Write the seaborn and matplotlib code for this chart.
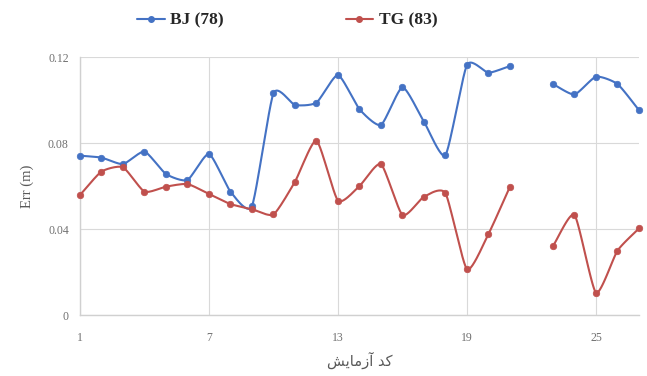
import numpy as np
import pandas as pd
import matplotlib
matplotlib.use("Agg")
import matplotlib.pyplot as plt
from matplotlib.lines import Line2D
import seaborn as sns

# Test codes (no measurement for code 22)
codes = list(range(1, 28))
bj_err = [0.0741, 0.0732, 0.0702, 0.0760, 0.0656, 0.0628, 0.0749, 0.0574, 0.0507,
          0.1031, 0.0977, 0.0988, 0.1116, 0.0957, 0.0884, 0.1059, 0.0899, 0.0744,
          0.1163, 0.1127, 0.1158, None, 0.1074, 0.1026, 0.1108, 0.1074, 0.0953]
tg_err = [0.0558, 0.0667, 0.0687, 0.0574, 0.0597, 0.0609, 0.0563, 0.0516, 0.0492,
          0.0468, 0.0620, 0.0811, 0.0532, 0.0600, 0.0702, 0.0465, 0.0550, 0.0566,
          0.0213, 0.0377, 0.0597, None, 0.0321, 0.0465, 0.0104, 0.0299, 0.0403]
series_names = ["BJ (78)", "TG (83)"]
x_ticks = [1, 7, 13, 19, 25]
y_ticks = [0, 0.04, 0.08, 0.12]
y_tick_labels = ["0", "0.04", "0.08", "0.12"]
colors = {"BJ (78)": "#4472C4", "TG (83)": "#C0504D"}

df = pd.DataFrame({
    "code": codes * 2,
    "err": bj_err + tg_err,
    "series": [series_names[0]] * len(codes) + [series_names[1]] * len(codes),
})


def smooth_curve(xs, ys, tension=0.6, n=24):
    """Cardinal (Hermite) spline through consecutive points."""
    xs = np.asarray(xs, float)
    ys = np.asarray(ys, float)
    if len(xs) < 2:
        return xs, ys
    px = np.concatenate([[2 * xs[0] - xs[1]], xs, [2 * xs[-1] - xs[-2]]])
    py = np.concatenate([[2 * ys[0] - ys[1]], ys, [2 * ys[-1] - ys[-2]]])
    t = np.linspace(0, 1, n, endpoint=False)
    h00 = 2 * t ** 3 - 3 * t ** 2 + 1
    h10 = t ** 3 - 2 * t ** 2 + t
    h01 = -2 * t ** 3 + 3 * t ** 2
    h11 = t ** 3 - t ** 2
    out_x, out_y = [], []
    for i in range(1, len(px) - 2):
        for p, out in ((px, out_x), (py, out_y)):
            m1 = tension * (p[i + 1] - p[i - 1]) / 2
            m2 = tension * (p[i + 2] - p[i]) / 2
            out.extend(h00 * p[i] + h10 * m1 + h01 * p[i + 1] + h11 * m2)
    out_x.append(xs[-1])
    out_y.append(ys[-1])
    return np.array(out_x), np.array(out_y)


sns.set_theme(style="white")
plt.rcParams["font.family"] = ["Liberation Serif", "DejaVu Sans"]

fig = plt.figure(figsize=(6.47, 3.76), dpi=100)
ax = fig.add_axes([0.1236, 0.1622, 0.8640, 0.6862])

for name in series_names:
    sub = df[df["series"] == name].reset_index(drop=True)
    # split into contiguous runs around missing codes
    valid = sub["err"].notna()
    run_id = (~valid).cumsum()
    for _, run in sub[valid].groupby(run_id[valid]):
        cx, cy = smooth_curve(run["code"], run["err"])
        ax.plot(cx, cy, color=colors[name], lw=1.5, solid_capstyle="round",
                zorder=3, clip_on=False)
    sns.scatterplot(data=sub.dropna(), x="code", y="err", color=colors[name],
                    s=22, edgecolor=colors[name], linewidth=0.5, ax=ax, zorder=4,
                    legend=False, clip_on=False)

ax.set_xlim(1, 27)
ax.set_ylim(0, 0.12)
ax.set_xticks(x_ticks)
ax.set_yticks(y_ticks)
ax.set_yticklabels(y_tick_labels)
ax.grid(True, color="#D9D9D9", lw=0.8)
ax.set_axisbelow(True)
for side in ["top", "right"]:
    ax.spines[side].set_visible(False)
for side in ["left", "bottom"]:
    ax.spines[side].set_color("#D0D0D0")
    ax.spines[side].set_linewidth(1.0)
ax.tick_params(axis="both", labelsize=8.5, colors="#707070", length=0)
ax.tick_params(axis="x", pad=12)
ax.tick_params(axis="y", pad=8)

ax.set_ylabel("Err (m)", fontsize=10.5, color="#595959", labelpad=10)
# "کد آزمایش" written in joined presentation forms, visual order
xlabel = "\uFEB6\uFBFE\uFE8E\uFEE3\uFEAF\uFE81 \uFEAA\uFB90"
ax.set_xlabel(xlabel, fontsize=10.5, color="#595959", family=["DejaVu Sans"], labelpad=6)

handles = [Line2D([0], [0], color=colors[n], lw=1.5, marker="o", markersize=4)
           for n in series_names]
fig.legend(handles, series_names, loc="center", bbox_to_anchor=(0.444, 0.945), ncol=2,
           frameon=False, columnspacing=7.0, handlelength=1.6, handletextpad=0.3,
           prop={"family": "Liberation Serif", "weight": "bold", "size": 12.5})

fig.savefig("out.png", dpi=100, facecolor="white")
